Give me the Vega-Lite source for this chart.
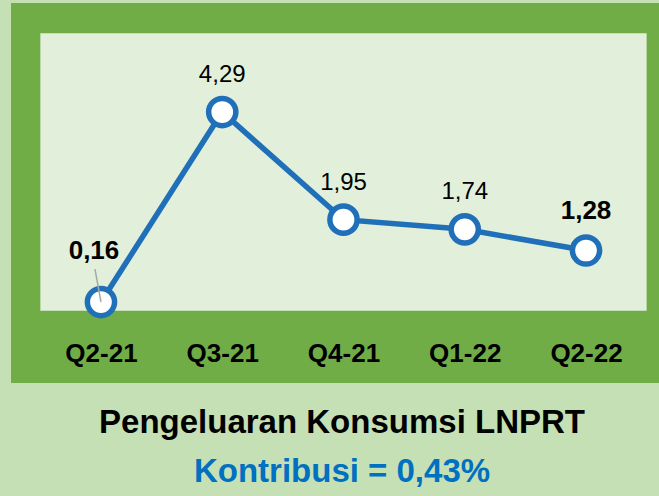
{
  "$schema": "https://vega.github.io/schema/vega-lite/v6.json",
  "width": 648,
  "height": 380,
  "autosize": "none",
  "padding": {"left": 11, "top": 3, "right": 0, "bottom": 113},
  "background": "#c5e0b4",
  "config": {
    "locale": {"number": {"decimal": ",", "thousands": ".", "grouping": [3], "currency": ["", ""]}},
    "view": {"fill": "#70ad47", "stroke": null},
    "font": "Liberation Sans"
  },
  "title": {
    "text": "Pengeluaran Konsumsi LNPRT",
    "subtitle": "Kontribusi = 0,43%",
    "orient": "bottom",
    "anchor": "middle",
    "dx": 7,
    "offset": 24,
    "font": "Liberation Sans",
    "fontSize": 33,
    "fontWeight": "bold",
    "color": "#000000",
    "subtitleFont": "Liberation Sans",
    "subtitleFontSize": 33,
    "subtitleFontWeight": "bold",
    "subtitleColor": "#0070c0",
    "subtitlePadding": 16
  },
  "data": {
    "values": [
      {"quarter": "Q2-21", "i": 0, "value": 0.16},
      {"quarter": "Q3-21", "i": 1, "value": 4.29},
      {"quarter": "Q4-21", "i": 2, "value": 1.95},
      {"quarter": "Q1-22", "i": 3, "value": 1.74},
      {"quarter": "Q2-22", "i": 4, "value": 1.28}
    ]
  },
  "encoding": {
    "x": {
      "field": "i",
      "type": "quantitative",
      "scale": {"domain": [-0.742, 4.602], "nice": false, "zero": false},
      "axis": {
        "values": [0, 1, 2, 3, 4],
        "labelExpr": "['Q2-21','Q3-21','Q4-21','Q1-22','Q2-22'][datum.value]",
        "title": null,
        "grid": false,
        "ticks": false,
        "domain": false,
        "labelFont": "Liberation Sans",
        "labelFontSize": 26,
        "labelFontWeight": "bold",
        "labelColor": "#000000",
        "labelBaseline": "alphabetic",
        "labelPadding": -22,
        "labelFlush": false,
        "labelOverlap": false
      }
    },
    "y": {
      "field": "value",
      "type": "quantitative",
      "scale": {"domain": [-1.6, 6.66], "nice": false, "zero": false},
      "axis": null
    }
  },
  "layer": [
    {
      "data": {"values": [{"x0": -0.5, "x1": 4.5, "y0": -0.03, "y1": 6.0}]},
      "mark": {"type": "rect", "fill": "#e2efda"},
      "encoding": {
        "x": {"field": "x0", "type": "quantitative"},
        "x2": {"field": "x1"},
        "y": {"field": "y0", "type": "quantitative"},
        "y2": {"field": "y1"}
      }
    },
    {
      "mark": {"type": "line", "color": "#1f70b9", "strokeWidth": 5.5}
    },
    {
      "mark": {"type": "point", "shape": "circle", "size": 740, "fill": "#ffffff", "stroke": "#1f70b9", "strokeWidth": 5.5, "opacity": 1, "fillOpacity": 1, "strokeOpacity": 1}
    },
    {
      "transform": [{"filter": "datum.i == 0"}],
      "mark": {"type": "rule", "color": "#a6a6a6", "strokeWidth": 1.5, "x2Offset": -6, "y2Offset": -33},
      "encoding": {
        "x2": {"field": "i"},
        "y2": {"field": "value"}
      }
    },
    {
      "transform": [{"filter": "datum.i >= 1 && datum.i <= 3"}],
      "mark": {"type": "text", "baseline": "alphabetic", "dy": -30, "fontSize": 24, "color": "#000000", "font": "Liberation Sans"},
      "encoding": {"text": {"field": "value", "type": "quantitative", "format": ".2f"}}
    },
    {
      "transform": [{"filter": "datum.i == 4"}],
      "mark": {"type": "text", "baseline": "alphabetic", "dy": -32, "fontSize": 26, "fontWeight": "bold", "color": "#000000", "font": "Liberation Sans"},
      "encoding": {"text": {"field": "value", "type": "quantitative", "format": ".2f"}}
    },
    {
      "transform": [{"filter": "datum.i == 0"}],
      "mark": {"type": "text", "baseline": "alphabetic", "dx": -7, "dy": -43, "fontSize": 26, "fontWeight": "bold", "color": "#000000", "font": "Liberation Sans"},
      "encoding": {"text": {"field": "value", "type": "quantitative", "format": ".2f"}}
    }
  ]
}
